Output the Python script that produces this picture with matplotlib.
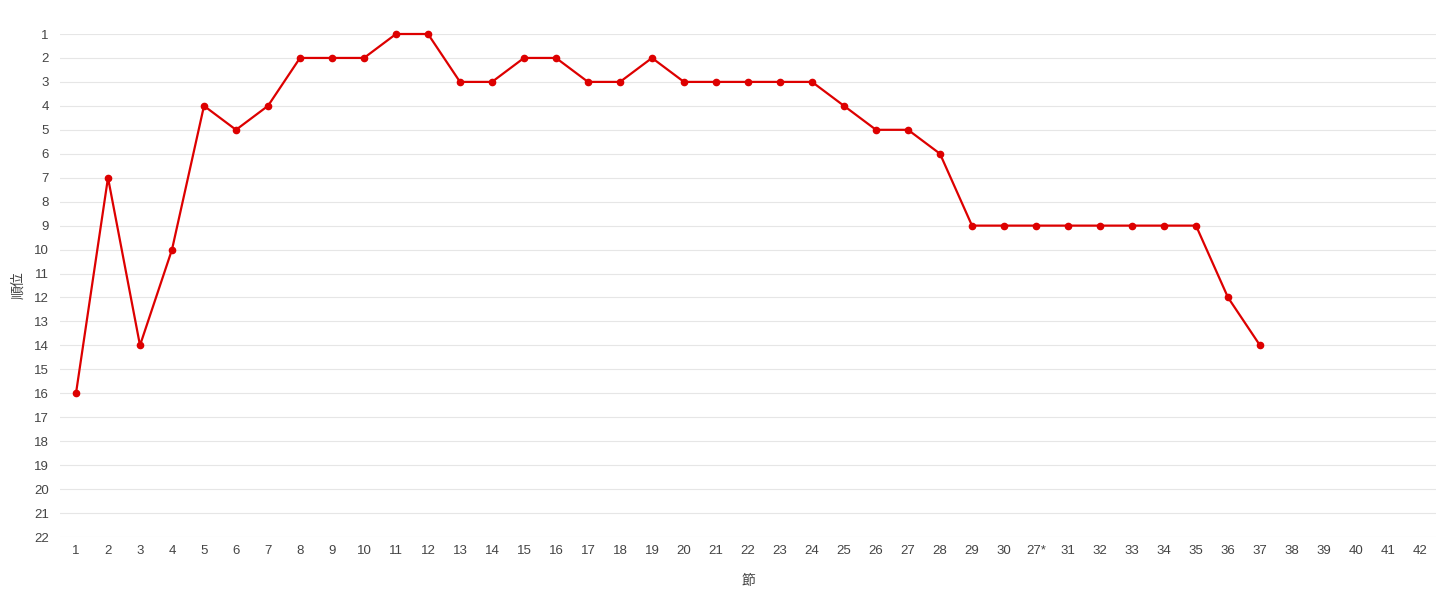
import matplotlib
matplotlib.use("Agg")
import matplotlib.pyplot as plt

plt.rcParams['font.family'] = ['Liberation Sans', 'Noto Sans CJK JP', 'DejaVu Sans']

categories = [str(i) for i in range(1, 31)] + ["27*"] + [str(i) for i in range(31, 43)]
ranks = [16, 7, 14, 10, 4, 5, 4, 2, 2, 2, 1, 1, 3, 3, 2, 2, 3, 3, 2, 3,
         3, 3, 3, 3, 4, 5, 5, 6, 9, 9, 9, 9, 9, 9, 9, 9, 12, 14]
y_ticks = list(range(1, 23))

fig = plt.figure(figsize=(14.36, 5.98), dpi=100)
ax = fig.add_axes([60/1436, 1-537/598, 1-60/1436, (537-34)/598])

x = list(range(len(ranks)))
ax.plot(x, ranks, color='#dd0000', linewidth=1.6, marker='o', markersize=4.5,
        clip_on=False, zorder=3)

ax.set_xlim(-0.5, len(categories) - 0.5)
ax.set_ylim(22, 1)
ax.set_xticks(range(len(categories)))
ax.set_xticklabels(categories)
ax.set_yticks(y_ticks)
ax.set_yticklabels([str(v) for v in y_ticks])
ax.tick_params(axis='both', length=0, labelsize=9.5, colors='#444444')
ax.tick_params(axis='y', pad=8)
ax.tick_params(axis='x', pad=6)
ax.grid(axis='y', color='#e6e6e6', linewidth=0.8)
ax.set_axisbelow(True)
for s in ax.spines.values():
    s.set_visible(False)

ax.set_xlabel('節', fontsize=10, color='#444444', labelpad=12)
ax.set_ylabel('順位', fontsize=10, color='#444444', labelpad=6)

fig.savefig('out.png', dpi=100)
